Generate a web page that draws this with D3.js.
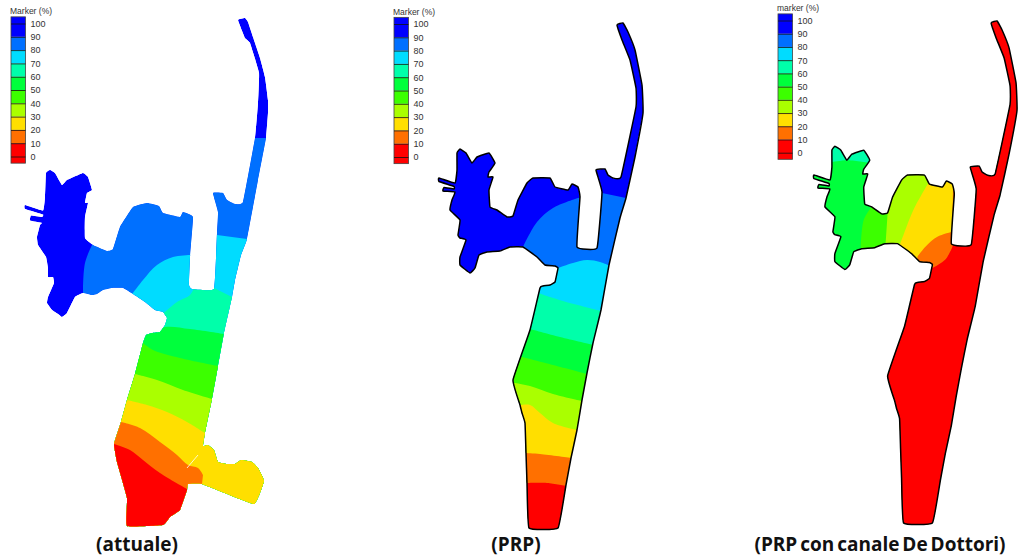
<!DOCTYPE html>
<html>
<head>
<meta charset="utf-8">
<script src="https://d3js.org/d3.v7.min.js"></script>
<style>
  html, body { margin: 0; padding: 0; background: #fff; }
  svg { display: block; }
  .tick text { font-family: "Liberation Sans", Arial, sans-serif; font-size: 9px; fill: #333; }
  .legend-title { font-family: "Liberation Sans", Arial, sans-serif; font-size: 8.5px; fill: #333; }
  .caption { font-family: "Open Sans", sans-serif; font-weight: 700; font-size: 19px; fill: #111; text-anchor: middle; word-spacing: -2px; }
</style>
</head>
<body>
<div id="vis_data"></div>
<script>
// legend
var legendTicks = [0, 10, 20, 30, 40, 50, 60, 70, 80, 90, 100];
var legendLimits = [-5, 10, 20, 30, 40, 50, 60, 70, 80, 90, 105];
var bandColors = ["#ff0000", "#ff7000", "#ffdf00", "#aaff00", "#3cff00", "#00ff3c", "#00ffaa", "#00dcff", "#0070ff", "#0000ff"];

// domain outlines
var outlineAttuale = [[238,20],[245,18],[248,22],[253,37],[260,58],[265,77],[268,100],[268,113],[266,138],[258,180],[247,239],[241,255],[235,280],[232,297],[224,333],[218,366],[212,399],[205,433],[203,446],[208,445],[214,450],[218,462],[227,464],[235,464],[241,460],[252,462],[258,468],[264,481],[254,504],[202,484],[188,484],[187,490],[180,510],[170,517],[163,525],[127,526],[127,498],[117,462],[114,444],[121,422],[127,400],[135,374],[143,343],[146,335],[152,333],[160,332],[165,325],[167,318],[163,312],[155,310],[145,302],[133,294],[123,288],[112,288],[103,290],[97,294],[92,295],[83,293],[75,297],[67,313],[62,317],[58,314],[52,310],[47,303],[48,297],[54,283],[53,277],[48,277],[48,268],[46,257],[38,245],[37,237],[40,225],[42,223],[30,220.5],[31,215.5],[42,217],[43,214.5],[25,209],[25,205],[43,210.5],[45,197],[46,173],[50,170],[55,173],[62,185],[67,180],[83,173],[88,177],[92,190],[87,193],[85,203],[88,203],[85,217],[85,238],[93,245],[107,251],[113,249],[120,227],[133,207],[147,203],[159,206],[163,213],[180,217],[183,212],[193,217],[190,257],[189,285],[192,289],[214,289],[217,233],[218,212],[213,193],[223,193],[227,200],[235,204],[243,202],[255,138],[258,103],[259,73],[250,43],[245,38]];
var outlinePrp = [[617,25],[623,23],[628,32],[635,50],[642,85],[643,113],[635,157],[626,198],[620,218],[609,265],[601,310],[593,343],[587,373],[582,400],[577,430],[571,458],[566,485],[558,528],[529,528],[527,483],[526,453],[525,423],[522,413],[520,405],[513,380],[530,330],[540,288],[543,286],[550,285],[555,282],[557,273],[558,268],[555,266],[545,265],[537,257],[523,247],[510,247],[500,251],[487,252],[479,255],[475,268],[470,273],[460,265],[460,257],[466,240],[460,238],[458,235],[460,220],[450,210],[452,200],[455,192],[443,191],[444,187.5],[454,189],[454,186.5],[439,181.5],[439,178],[455,183],[457,170],[457,153],[460,149],[466,153],[472,163],[477,157],[489,153],[495,163],[489,172],[488,177],[493,177],[489,190],[490,207],[497,210],[507,217],[513,216],[518,200],[527,183],[533,178],[550,178],[555,187],[568,190],[572,184],[578,187],[580,197],[577,247],[597,248],[602,192],[596,170],[605,169],[608,175],[613,178],[621,177],[636,107],[636,88],[630,60],[622,40]];

// iso-lines: value of the band, its edge, and the corners that close it
var bandsAttuale = [
  [85, [[93,243],[85,263],[83,292]], [[83,600],[400,600],[400,138],[266,138],[255,138],[100,138]]],
  [75, [[133,293],[143,280],[157,265],[173,257],[190,255]], [[200,235],[217,235],[247,239],[400,245],[400,600],[110,600],[110,300]]],
  [65, [[165,312],[177,302],[190,295],[194,288]], [[214,288],[232,297],[300,300],[300,600],[100,600],[100,320]]],
  [55, [[145,335],[165,327],[190,329],[224,334]], [[300,335],[300,600],[100,600],[100,335]]],
  [45, [[143,343],[153,350],[180,358],[218,366]], [[300,367],[300,600],[100,600],[100,343]]],
  [35, [[135,374],[157,380],[183,390],[212,399]], [[300,400],[300,600],[100,600],[100,374]]],
  [25, [[127,400],[147,405],[167,412],[187,422],[205,433]], [[300,433],[300,600],[100,600],[100,400]]],
  [15, [[121,422],[140,428],[160,442],[177,455],[188,465],[198,468],[203,475]], [[202,484],[202,600],[100,600],[100,422]]],
  [5, [[114,444],[130,450],[143,460],[160,473],[187,489]], [[200,600],[100,600],[100,444]]]
];
var bandsPrp = [
  [85, [[578,198],[553,208],[537,222],[523,247]], [[500,300],[500,600],[700,600],[700,198],[626,198],[602,193]]],
  [75, [[558,268],[573,263],[587,260],[600,262],[610,266]], [[700,266],[700,600],[500,600],[500,268]]],
  [65, [[538,293],[563,301],[601,311]], [[700,311],[700,600],[500,600],[500,293]]],
  [55, [[530,329],[560,337],[594,345]], [[700,345],[700,600],[500,600],[500,329]]],
  [45, [[522,357],[553,365],[587,374]], [[700,374],[700,600],[500,600],[500,357]]],
  [35, [[515,383],[530,386],[553,394],[582,401]], [[700,401],[700,600],[500,600],[500,383]]],
  [25, [[521,405],[530,405],[540,413],[553,423],[577,430]], [[700,430],[700,600],[500,600],[500,405]]],
  [15, [[525,453],[540,454],[572,458]], [[700,458],[700,600],[500,600],[500,453]]],
  [5, [[527,483],[547,483],[567,486]], [[700,486],[700,600],[500,600],[500,483]]]
];
var bandsDottori = [
  [55, [[456,165],[473,163],[496,166]], [[700,166],[700,600],[400,600],[400,165]]],
  [45, [[496,211],[489,223],[486,250]], [[480,600],[700,600],[700,100],[505,100]]],
  [35, [[513,216],[511,246]], [[505,600],[700,600],[700,100],[515,100]]],
  [25, [[554,186],[539,213],[526,246],[520,260]], [[500,600],[700,600],[700,100],[560,100]]],
  [15, [[578,235],[563,240],[551,250],[543,260]], [[520,600],[700,600],[700,100],[580,100]]],
  [5, [[579,248],[571,263],[559,271]], [[550,275],[420,290],[420,600],[700,600],[700,0],[585,0],[585,248]]]
];
var crackAttuale = [[187,468],[198,455]];
var captions = ["(attuale)", "(PRP)", "(PRP con canale De Dottori)"];
var legendTitles = ["Marker (%)", "Marker (%)", "marker (%)"];

var width = 1034, height = 559;

var svg = d3.select("#vis_data").append("svg")
    .attr("width", width)
    .attr("height", height);

var color = d3.scaleThreshold()
    .domain(legendTicks.slice(1, 10))
    .range(bandColors);

// panel frames: legend box and the mapping from picture units to the page
var panels = [
  {outline: outlineAttuale, bands: bandsAttuale, base: 95, stroke: "none", lx: 11, ly: [156.5, 23.5], tx: 137, xd: [0, 1034], xr: [0, 1034], yd: [0, 559], yr: [0, 559]},
  {outline: outlinePrp, bands: bandsPrp, base: 95, stroke: "#000", lx: 394, ly: [157, 24], tx: 516, xd: [0, 1034], xr: [0, 1034], yd: [0, 559], yr: [0, 559]},
  {outline: outlinePrp, bands: bandsDottori, base: 65, stroke: "#000", lx: 778, ly: [152.7, 20.5], tx: 880, xd: [439, 643], xr: [814, 1017], yd: [23, 528], yr: [21, 523]}
];

panels.forEach(function(p, i) {
  var x = d3.scaleLinear().domain(p.xd).range(p.xr);
  var y = d3.scaleLinear().domain(p.yd).range(p.yr);
  var g = svg.append("g");
  // high tension keeps the straight shores straight and only softens the bends
  var shape = d3.line().x(function(d) { return x(d[0]); }).y(function(d) { return y(d[1]); }).curve(d3.curveCardinalClosed.tension(0.72));
  var line = d3.line().x(function(d) { return x(d[0]); }).y(function(d) { return y(d[1]); });
  var smooth = d3.line().x(function(d) { return x(d[0]); }).y(function(d) { return y(d[1]); }).curve(d3.curveCatmullRom);

  g.append("clipPath").attr("id", "clip" + i)
    .append("path").attr("d", shape(p.outline));

  var map = g.append("g").attr("clip-path", "url(#clip" + i + ")");
  map.append("path").attr("d", shape(p.outline)).attr("fill", color(p.base));

  // each band paints over everything on the far side of its edge
  map.selectAll(".band")
    .data(p.bands)
    .enter()
    .append("path")
    .attr("class", "band")
    .attr("fill", function(d) { return color(d[0]); })
    .attr("d", function(d) {
      return smooth(d[1]) + d[2].map(function(c) { return "L" + x(c[0]) + "," + y(c[1]); }).join("") + "Z";
    });

  if (p.stroke !== "none") {
    g.append("path")
      .attr("d", shape(p.outline))
      .attr("fill", "none")
      .attr("stroke", p.stroke)
      .attr("stroke-width", 1.5)
      .attr("stroke-linejoin", "round");
  }
  if (i === 0) {
    g.append("path").attr("d", line(crackAttuale)).attr("stroke", "#fff").attr("stroke-width", 0.8).attr("fill", "none");
  }

  // legend
  var ly = d3.scaleLinear().domain([0, 100]).range(p.ly);
  var leg = svg.append("g").attr("transform", "translate(" + p.lx + ",0)");
  leg.selectAll("rect")
    .data(bandColors)
    .enter()
    .append("rect")
    .attr("x", 0)
    .attr("width", 14.5)
    .attr("y", function(d, k) { return ly(legendLimits[k + 1]); })
    .attr("height", function(d, k) { return ly(legendLimits[k]) - ly(legendLimits[k + 1]); })
    .attr("fill", function(d) { return d; });
  leg.append("rect")
    .attr("x", 0).attr("width", 14.5)
    .attr("y", ly(105)).attr("height", ly(-5) - ly(105))
    .attr("fill", "none").attr("stroke", "#444").attr("stroke-width", 0.8);
  var axis = leg.append("g")
    .call(d3.axisRight(ly).tickValues(legendTicks).tickSize(14.5).tickPadding(5).tickFormat(d3.format("d")));
  axis.select(".domain").remove();
  axis.selectAll(".tick line").attr("stroke", "#111").attr("stroke-width", 0.8);
  leg.append("text")
    .attr("class", "legend-title")
    .attr("x", -1)
    .attr("y", ly(105) - 2.5)
    .text(legendTitles[i]);

  svg.append("text")
    .attr("class", "caption")
    .attr("x", p.tx)
    .attr("y", 551)
    .text(captions[i]);
});
</script>
</body>
</html>
